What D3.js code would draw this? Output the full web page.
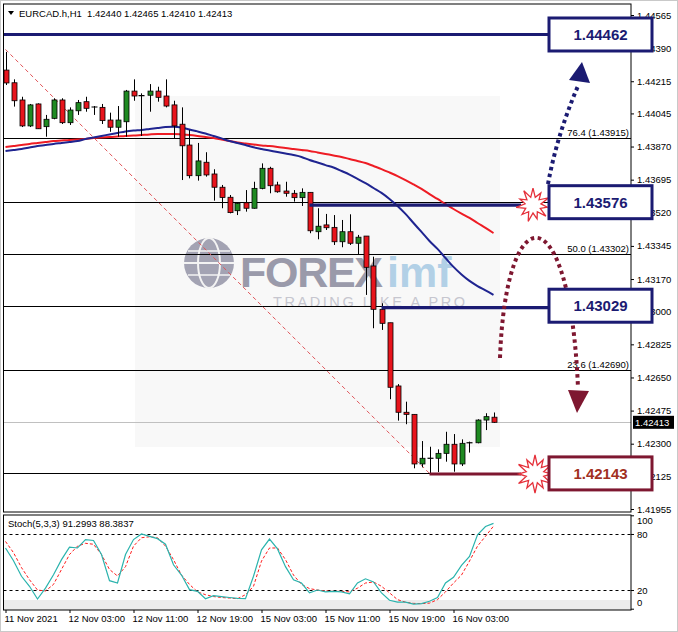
<!DOCTYPE html>
<html><head><meta charset="utf-8">
<script src="https://cdn.jsdelivr.net/npm/d3@7"></script>
<style>
body{margin:0;background:#fff;}
svg{display:block;font-family:"Liberation Sans",Arial,sans-serif;}
</style>
</head><body>
<svg id="c" width="678" height="632"></svg>
<script>
// ---------------- DATA ----------------
const headerText = "EURCAD.h,H1  1.42440 1.42465 1.42410 1.42413";
const stochTitle = "Stoch(5,3,3) 91.2993 88.3837";

const opens = [1.44274,1.44207,1.44116,1.43979,1.44095,1.43975,1.44019,1.44116,1.43996,1.44059,
  1.44107,1.44079,1.44077,1.44010,1.43972,1.44001,1.44163,1.44139,1.44141,1.44163,
  1.44137,1.44090,1.43988,1.43878,1.43716,1.43787,1.43725,1.43655,1.43602,1.43531,
  1.43573,1.43544,1.43649,1.43755,1.43667,1.43635,1.43623,1.43600,1.43628,1.43420,
  1.43456,1.43443,1.43367,1.43420,1.43359,1.43397,1.43239,1.43010,1.42939,1.42605,
  1.42466,1.42455,1.42193,1.42223,1.42223,1.42249,1.42297,1.42193,1.42305,1.42305,
  1.42425,1.42440];
const highs = [1.44370,1.44225,1.44133,1.44095,1.44098,1.44037,1.44125,1.44125,1.44077,1.44116,
  1.44133,1.44084,1.44095,1.44049,1.44084,1.44169,1.44225,1.44151,1.44200,1.44186,
  1.44225,1.44112,1.44077,1.43957,1.43889,1.43840,1.43750,1.43667,1.43614,1.43573,
  1.43640,1.43684,1.43781,1.43763,1.43684,1.43684,1.43640,1.43649,1.43628,1.43544,
  1.43514,1.43508,1.43482,1.43512,1.43403,1.43397,1.43288,1.43042,1.42939,1.42615,
  1.42522,1.42455,1.42314,1.42284,1.42270,1.42363,1.42351,1.42323,1.42311,1.42429,
  1.42461,1.42465];
const lows = [1.44195,1.44081,1.43973,1.43973,1.43963,1.43922,1.44014,1.43989,1.43984,1.44037,
  1.44054,1.44037,1.43989,1.43948,1.43922,1.43922,1.44112,1.43926,1.44054,1.44107,
  1.44077,1.43914,1.43693,1.43702,1.43690,1.43711,1.43584,1.43544,1.43517,1.43508,
  1.43526,1.43542,1.43644,1.43623,1.43626,1.43605,1.43579,1.43556,1.43412,1.43380,
  1.43429,1.43350,1.43338,1.43350,1.43297,1.43086,1.42910,1.42901,1.42535,1.42422,
  1.42403,1.42170,1.42175,1.42144,1.42150,1.42205,1.42152,1.42182,1.42253,1.42302,
  1.42372,1.42410];
const closes = [1.44206,1.44112,1.43979,1.44090,1.43964,1.44014,1.44116,1.43996,1.44063,1.44102,
  1.44072,1.44079,1.44007,1.43972,1.44010,1.44163,1.44137,1.44139,1.44163,1.44130,
  1.44084,1.43979,1.43874,1.43716,1.43794,1.43720,1.43655,1.43601,1.43521,1.43570,
  1.43544,1.43649,1.43755,1.43663,1.43631,1.43623,1.43600,1.43628,1.43425,1.43449,
  1.43441,1.43367,1.43420,1.43359,1.43391,1.43232,1.43010,1.42936,1.42598,1.42466,
  1.42455,1.42193,1.42223,1.42223,1.42249,1.42297,1.42193,1.42302,1.42305,1.42425,
  1.42443,1.42413];

const maBlue = [1.43847,1.43852,1.43857,1.43865,1.43873,1.43878,1.43884,1.43889,1.43894,1.43899,
  1.43910,1.43918,1.43926,1.43934,1.43942,1.43950,1.43955,1.43958,1.43963,1.43968,
  1.43973,1.43975,1.43971,1.43960,1.43950,1.43939,1.43926,1.43913,1.43899,1.43889,
  1.43878,1.43866,1.43857,1.43849,1.43841,1.43833,1.43825,1.43815,1.43799,1.43786,
  1.43772,1.43759,1.43741,1.43722,1.43699,1.43677,1.43651,1.43625,1.43593,1.43556,
  1.43514,1.43466,1.43419,1.43371,1.43329,1.43281,1.43234,1.43194,1.43160,1.43133,
  1.43110,1.43086];
const maRed = [1.43868,1.43873,1.43878,1.43884,1.43889,1.43894,1.43899,1.43902,1.43905,1.43907,
  1.43910,1.43915,1.43918,1.43920,1.43923,1.43926,1.43928,1.43931,1.43934,1.43936,
  1.43936,1.43936,1.43934,1.43931,1.43926,1.43920,1.43915,1.43907,1.43899,1.43891,
  1.43886,1.43881,1.43876,1.43873,1.43868,1.43862,1.43857,1.43852,1.43847,1.43839,
  1.43831,1.43823,1.43815,1.43804,1.43794,1.43783,1.43767,1.43751,1.43733,1.43714,
  1.43693,1.43670,1.43646,1.43619,1.43593,1.43566,1.43540,1.43516,1.43493,1.43466,
  1.43440,1.43413];

const stochMain = [65,51.4,34.7,24,10.4,22,36.4,52.5,66,65,
  74,73,58,30,27.5,58,74,80,77.5,75,
  69,47,36,20.4,18.6,10.7,14,13,12,11,
  10.7,34.7,63,74.6,64,45,31,27.5,17,20,
  18,18.6,18,16,27.5,32,28.6,17,9,7,
  7,5,5.4,8,12,27.5,33.6,46.4,56,79,
  88,91.3];
const stochSignal = [72,60,44,31,20,19,26,42,58,67,
  70,69,58,42,35,45,67,76,77,76,
  67,52.5,36,26,18,15,13,12,11.4,10.7,
  15,24,51,65,65,52.5,36,26,21.5,20,
  19,18.6,18.6,18,22,27.5,28.6,24,17,9.7,
  7,5.7,5.4,6,9.7,18,27.5,36,51,67,
  77.5,88.4];

const priceTicks = [1.44565,1.44390,1.44215,1.44045,1.43870,1.43695,1.43520,1.43345,
  1.43170,1.43000,1.42825,1.42650,1.42475,1.42300,1.42125,1.41955];
const stochTicks = [100,80,20,0];
const stochLevels = [80,20];

const timeLabels = ["11 Nov 2021","12 Nov 03:00","12 Nov 11:00","12 Nov 19:00",
  "15 Nov 03:00","15 Nov 11:00","15 Nov 19:00","16 Nov 03:00"];
const timeLabelBars = [0,8,16,24,32,40,48,56];

const fibLevels = ["0.0","23.6","38.2","50.0","61.8","76.4","100.0"];
const fibPrices = [1.42143,1.42690,1.43029,1.43302,1.43576,1.43915,1.44462];

const boxTexts  = ["1.44462","1.43576","1.43029","1.42143"];
const boxPrices = [1.44462,1.43576,1.43029,1.42143];
const boxKinds  = ["navy","navy","navy","maroon"];
const segPrices = [1.44462,1.43561,1.43019,1.42140];
const segStartBars = [null,38,47,53];
const segEndsAtStar = [false,true,false,true];

const lastPrice = 1.42413;
const trendBars = [0,53];
const trendPrices = [1.44383,1.42143];

// ---------------- LAYOUT ----------------
const svg = d3.select("#c");
const L = 3.5, R = 631, T = 4, B = 512;
const ST = 515, SB = 610;
const BOX_X0 = 549, BOX_X1 = 652, BOX_H = 33;
const STAR_X = 533;
const NAVY = "#1b1b72", MAROON = "#7e1730", MAROON_TXT = "#a1301f";

const x = d3.scaleLinear().domain([0,61]).range([5.5,493.5]);
const y = d3.scaleLinear().domain([1.41955,1.44565]).range([509,15]);
const ys = d3.scaleLinear().domain([0,100]).range([608.7,515.3]);

svg.append("rect").attr("x",0.5).attr("y",0.5).attr("width",677).attr("height",631)
  .attr("fill","#fff").attr("stroke","#c9c9c9");

const defs = svg.append("defs");
defs.append("clipPath").attr("id","mainclip").append("rect")
  .attr("x",L).attr("y",T).attr("width",R-L).attr("height",B-T);
defs.append("clipPath").attr("id","stclip").append("rect")
  .attr("x",L).attr("y",ST).attr("width",R-L).attr("height",SB-ST);

const main = svg.append("g").attr("clip-path","url(#mainclip)");

// faint watermark background
main.append("rect").attr("x",135).attr("y",96).attr("width",365).attr("height",351).attr("fill","#f8f8f8");

// watermark logo
const wm = main.append("g");
wm.append("circle").attr("cx",209).attr("cy",263).attr("r",25).attr("fill","#a3a3b3");
wm.append("ellipse").attr("cx",209).attr("cy",263).attr("rx",11).attr("ry",25).attr("fill","none").attr("stroke","#f3f3f3").attr("stroke-width",2);
wm.append("line").attr("x1",184).attr("x2",234).attr("y1",263).attr("y2",263).attr("stroke","#f3f3f3").attr("stroke-width",2);
wm.append("line").attr("x1",188).attr("x2",230).attr("y1",251).attr("y2",251).attr("stroke","#f3f3f3").attr("stroke-width",1.5);
wm.append("line").attr("x1",188).attr("x2",230).attr("y1",275).attr("y2",275).attr("stroke","#f3f3f3").attr("stroke-width",1.5);
wm.append("text").attr("x",240).attr("y",287).attr("font-size",43).attr("font-weight","bold")
  .attr("fill","#9a9aaa").attr("textLength",143).text("FOREX");
wm.append("text").attr("x",387).attr("y",287).attr("font-size",43).attr("font-weight","bold")
  .attr("fill","#b2d0e6").text("imf");
wm.append("text").attr("x",273).attr("y",307).attr("font-size",14.5)
  .attr("fill","#c6c6cf").attr("textLength",192).text("TRADING LIKE A PRO");

// fib levels
const fibG = main.append("g");
fibG.selectAll("line").data(fibPrices).join("line")
  .attr("x1",L).attr("x2",R).attr("y1",d=>Math.round(y(d))+0.5).attr("y2",d=>Math.round(y(d))+0.5)
  .attr("stroke","#000").attr("stroke-width",1);

// current price line
main.append("line").attr("x1",L).attr("x2",R).attr("y1",Math.round(y(lastPrice))+0.5).attr("y2",Math.round(y(lastPrice))+0.5)
  .attr("stroke","#c0c0c0").attr("stroke-width",1);

// trend dashed
main.append("line").attr("x1",x(trendBars[0])).attr("y1",y(trendPrices[0]))
  .attr("x2",x(trendBars[1])).attr("y2",y(trendPrices[1]))
  .attr("stroke","#e0555a").attr("stroke-width",1).attr("stroke-dasharray","4,3");

// moving averages
const lineGen = d3.line().x((d,i)=>x(i)).y(d=>y(d)).curve(d3.curveMonotoneX);
main.append("path").datum(maRed).attr("d",lineGen).attr("fill","none").attr("stroke","#ee1c24").attr("stroke-width",2);
main.append("path").datum(maBlue).attr("d",lineGen).attr("fill","none").attr("stroke","#1f2490").attr("stroke-width",2);

// candles
const cg = main.append("g");
opens.forEach((o,i)=>{
  const c = closes[i], h = highs[i], l = lows[i];
  const cx = Math.round(x(i))+0.5;
  cg.append("line").attr("x1",cx).attr("x2",cx).attr("y1",y(h)).attr("y2",y(l)).attr("stroke","#000").attr("stroke-width",1);
  const top = y(Math.max(o,c)), bot = y(Math.min(o,c));
  if (Math.abs(bot-top) < 1) {
    cg.append("line").attr("x1",cx-3).attr("x2",cx+3).attr("y1",top).attr("y2",top).attr("stroke","#000").attr("stroke-width",1.2);
  } else {
    cg.append("rect").attr("x",cx-2.5).attr("y",top).attr("width",5).attr("height",bot-top)
      .attr("fill", c>=o ? "#1f8a22" : "#e8141c").attr("stroke","#000").attr("stroke-width",0.8);
  }
});

// level segments
segPrices.forEach((p,i)=>{
  const x0 = segStartBars[i]===null ? L : x(segStartBars[i]);
  const x1 = segEndsAtStar[i] ? STAR_X-12 : BOX_X0;
  main.append("line").attr("x1",x0).attr("x2",x1).attr("y1",y(p)).attr("y2",y(p))
    .attr("stroke", boxKinds[i]==="navy" ? NAVY : MAROON).attr("stroke-width",3.2);
});

// fib labels (those under the value boxes are hidden, as in the original)
const visibleFib = fibPrices.map((p,i)=>({p, lvl:fibLevels[i]}))
  .filter(d=>!boxPrices.some(b=>Math.abs(b-d.p)<0.00005));
fibG.selectAll("text").data(visibleFib).join("text")
  .attr("x",R-2).attr("y",d=>Math.round(y(d.p))-2).attr("text-anchor","end")
  .attr("font-size",9.5).attr("fill","#000")
  .text(d=>`${d.lvl} (${d.p.toFixed(5)})`);

// dotted arrows
main.append("path").attr("d","M548,184 Q557,135 578,86").attr("fill","none")
  .attr("stroke",NAVY).attr("stroke-width",4).attr("stroke-dasharray","3.5,3.5");
main.append("path").attr("d","M582,62 L569,80 L590,83 Z").attr("fill",NAVY);
main.append("path").attr("d","M500,358 C506,193 570,193 578,388").attr("fill","none")
  .attr("stroke",MAROON).attr("stroke-width",4).attr("stroke-dasharray","3.5,3.5");
main.append("path").attr("d","M568,390 L589,391 L577,413 Z").attr("fill",MAROON);

// starbursts
function star(cx,cy,R1,R2,n){
  const pts=[];
  for(let k=0;k<2*n;k++){
    const a = Math.PI*k/n - Math.PI/2;
    const r = k%2===0 ? R1*(k%4===0?1:0.85) : R2;
    pts.push([cx+r*Math.cos(a), cy+r*Math.sin(a)]);
  }
  return "M"+pts.map(p=>p.join(",")).join("L")+"Z";
}
svg.append("path").attr("d",star(STAR_X,y(1.43561),17,8,11)).attr("fill","#fff").attr("stroke","#e5303a").attr("stroke-width",1.3);
svg.append("path").attr("d",star(STAR_X+2,y(1.42140),19,9,12)).attr("fill","#fff").attr("stroke","#e5303a").attr("stroke-width",1.3);

// frames
svg.append("rect").attr("x",L).attr("y",T).attr("width",R-L).attr("height",B-T).attr("fill","none").attr("stroke","#000");
const stg = svg.append("g");
stg.append("rect").attr("x",L+0.5).attr("y",600).attr("width",R-L-1).attr("height",SB-600).attr("fill","#ececec");
stg.append("rect").attr("x",L).attr("y",ST).attr("width",R-L).attr("height",SB-ST).attr("fill","none").attr("stroke","#000");

// header
svg.append("path").attr("d","M8,11 L14,11 L11,15 Z").attr("fill","#000");
svg.append("text").attr("x",19).attr("y",17).attr("font-size",9.5).attr("fill","#000").attr("xml:space","preserve").text(headerText);

// price axis
const yAxis = d3.axisRight(y).tickValues(priceTicks).tickSize(3).tickPadding(3).tickFormat(d3.format(".5f"));
const ya = svg.append("g").attr("transform",`translate(${R},0)`).call(yAxis);
ya.select(".domain").remove();
ya.selectAll("text").attr("font-size",9.5).attr("font-family","Liberation Sans, Arial").attr("fill","#000");

// current price tag
svg.append("rect").attr("x",R+2).attr("y",y(lastPrice)-6.5).attr("width",41).attr("height",13).attr("fill","#000");
svg.append("text").attr("x",R+4).attr("y",y(lastPrice)+3.5).attr("font-size",9.5).attr("fill","#fff").text(lastPrice.toFixed(5));

// boxes
boxPrices.forEach((p,i)=>{
  const col = boxKinds[i]==="navy" ? NAVY : MAROON;
  const cy = y(p);
  svg.append("rect").attr("x",BOX_X0).attr("y",cy-BOX_H/2).attr("width",BOX_X1-BOX_X0).attr("height",BOX_H)
    .attr("fill","#fff").attr("stroke",col).attr("stroke-width",3);
  svg.append("text").attr("x",(BOX_X0+BOX_X1)/2).attr("y",cy+5.5).attr("text-anchor","middle")
    .attr("font-size",15).attr("font-weight","bold")
    .attr("fill", boxKinds[i]==="navy" ? NAVY : MAROON_TXT).text(boxTexts[i]);
});

// stochastic
const sp = svg.append("g").attr("clip-path","url(#stclip)");
sp.selectAll("line.lv").data(stochLevels).join("line").attr("class","lv")
  .attr("x1",L).attr("x2",R).attr("y1",d=>Math.round(ys(d))+0.5).attr("y2",d=>Math.round(ys(d))+0.5)
  .attr("stroke","#000").attr("stroke-dasharray","3,3");
const sline = d3.line().x((d,i)=>x(i)).y(d=>ys(d));
sp.append("path").datum(stochSignal).attr("d",sline).attr("fill","none").attr("stroke","#ff1a1a").attr("stroke-width",1).attr("stroke-dasharray","3,2");
sp.append("path").datum(stochMain).attr("d",sline).attr("fill","none").attr("stroke","#2bb3ad").attr("stroke-width",1.2);
svg.append("text").attr("x",8).attr("y",527).attr("font-size",9.5).attr("fill","#000").text(stochTitle);

const sAxis = d3.axisRight(ys).tickValues(stochTicks).tickSize(3).tickPadding(3);
const sa = svg.append("g").attr("transform",`translate(${R},0)`).call(sAxis);
sa.select(".domain").remove();
sa.selectAll("text").attr("font-size",9.5).attr("font-family","Liberation Sans, Arial").attr("fill","#000")
  .attr("dy",(d)=> d===100 ? "0.9em" : d===0 ? "-0.3em" : "0.32em");

// time axis
const xAxis = d3.axisBottom(x).tickValues(timeLabelBars).tickSize(3).tickPadding(2)
  .tickFormat((d,i)=>timeLabels[i]);
const xa = svg.append("g").attr("transform",`translate(0,${SB})`).call(xAxis);
xa.select(".domain").remove();
xa.selectAll("text").attr("font-size",9.5).attr("font-family","Liberation Sans, Arial").attr("fill","#000")
  .attr("text-anchor","start").attr("x",-1.5);
</script>
</body></html>
